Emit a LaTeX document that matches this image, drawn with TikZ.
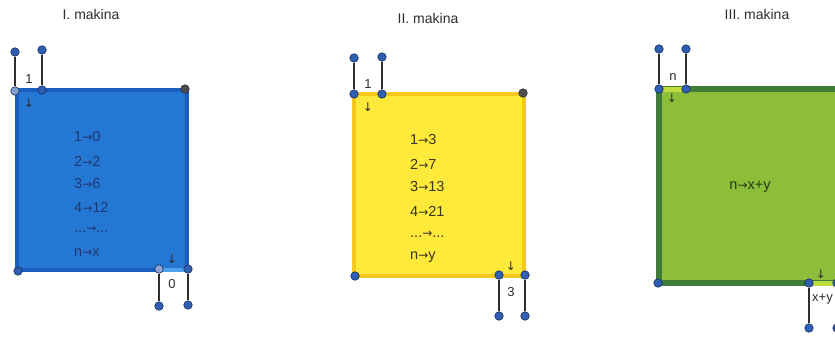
\documentclass[tikz,border=0pt]{standalone}
\usepackage{fontspec}
\setmainfont{Liberation Sans}
\newfontfamily\arr{DejaVu Sans}
\definecolor{bluefill}{HTML}{2577D4}
\definecolor{blueedge}{HTML}{1A5EC2}
\definecolor{bluegap}{HTML}{4FA3EC}
\definecolor{bluetext}{HTML}{1C3A72}
\definecolor{yelfill}{HTML}{FFEA3C}
\definecolor{yeledge}{HTML}{F4C81C}
\definecolor{yeltext}{HTML}{3A3520}
\definecolor{grnfill}{HTML}{8DBE3A}
\definecolor{grnedge}{HTML}{3F7C38}
\definecolor{grngap}{HTML}{BEDC3E}
\definecolor{grntext}{HTML}{26361A}
\definecolor{dotfill}{HTML}{2F5FB3}
\definecolor{dotedge}{HTML}{1B2D5E}
\definecolor{ink}{HTML}{2E2E2E}
\tikzset{
  dot/.style={circle,fill=dotfill,draw=dotedge,line width=0.6pt,inner sep=0pt,minimum size=8.5pt},
  darkdot/.style={dot,fill=ink!85,draw=ink},
  post/.style={draw=ink,line width=1.6pt},
  title/.style={font=\fontsize{14}{16}\selectfont,text=ink,inner sep=0pt},
  lbl/.style={font=\fontsize{13}{15}\selectfont,text=ink,inner sep=0pt},
  dn/.style={font=\arr\fontsize{12}{13}\selectfont,text=ink,inner sep=0pt},
  rule/.style={font=\fontsize{14.5}{16}\selectfont,inner sep=0pt,anchor=west},
}
\newcommand{\ra}{{\arr\fontsize{12}{14}\selectfont →}}
\begin{document}
\begin{tikzpicture}[x=1pt,y=-1pt]
\useasboundingbox (0,0) rectangle (835,338);
\clip (0,0) rectangle (835,338);
\fill[white] (0,0) rectangle (835,338);

% ---------- Machine I ----------
\node[title] (t1) at (91,14) {I. makina};
\draw[fill=bluefill,draw=blueedge,line width=4.5pt] (17,90) rectangle (187,270);
\draw[bluegap,line width=4.5pt] (160,270) -- (186,270);
\node[dot,fill=dotfill!60!white] (a1) at (15,91) {};
\node[dot] (a2) at (42,90) {};
\node[darkdot] (a3) at (185,89) {};
\node[dot] (a4) at (18,271) {};
\node[dot,fill=dotfill!55!white] (a5) at (159,269) {};
\node[dot] (a6) at (188,269) {};
\node[dot] (p1) at (15,52) {};
\node[dot] (p2) at (42,50) {};
\node[dot] (q1) at (159,306) {};
\node[dot] (q2) at (188,305) {};
\draw[post] (p1) -- (a1);
\draw[post] (p2) -- (a2);
\draw[post] (a5) -- (q1);
\draw[post] (a6) -- (q2);
\node[lbl] (l1) at (29,79) {1};
\node[dn] (d1) at (29,103) {↓};
\node[lbl] (l2) at (172,284) {0};
\node[dn] (d2) at (172,259) {↓};
\begin{scope}[text=bluetext]
\node[rule] (r11) at (74,137) {1\ra0};
\node[rule] (r12) at (74,161) {2\ra2};
\node[rule] (r13) at (74,184) {3\ra6};
\node[rule] (r14) at (74,207) {4\ra12};
\node[rule] (r15) at (74,229) {...\ra...};
\node[rule] (r16) at (74,253) {n\ra x};
\end{scope}

% ---------- Machine II ----------
\node[title] (t2) at (428,18) {II. makina};
\draw[fill=yelfill,draw=yeledge,line width=4pt] (354,94) rectangle (524,276);
\node[dot] (b1) at (354,94) {};
\node[dot] (b2) at (382,94) {};
\node[darkdot] (b3) at (523,93) {};
\node[dot] (b4) at (355,276) {};
\node[dot] (b5) at (499,275) {};
\node[dot] (b6) at (525,275) {};
\node[dot] (p3) at (354,58) {};
\node[dot] (p4) at (382,57) {};
\node[dot] (q3) at (499,316) {};
\node[dot] (q4) at (525,316) {};
\draw[post] (p3) -- (b1);
\draw[post] (p4) -- (b2);
\draw[post] (b5) -- (q3);
\draw[post] (b6) -- (q4);
\node[lbl] (l3) at (368,84) {1};
\node[dn] (d3) at (368,107) {↓};
\node[lbl] (l4) at (511,292) {3};
\node[dn] (d4) at (511,266) {↓};
\begin{scope}[text=yeltext]
\node[rule] (r21) at (410,140) {1\ra3};
\node[rule] (r22) at (410,164) {2\ra7};
\node[rule] (r23) at (410,187) {3\ra13};
\node[rule] (r24) at (410,211) {4\ra21};
\node[rule] (r25) at (410,234) {...\ra...};
\node[rule] (r26) at (410,257) {n\ra y};
\end{scope}

% ---------- Machine III ----------
\node[title] (t3) at (757,14) {III. makina};
\draw[fill=grnfill,draw=grnedge,line width=6pt] (659,89) rectangle (850,283);
\draw[grngap,line width=5pt] (663,89) -- (682,89);
\draw[grngap,line width=5pt] (813,283) -- (835,283);
\node[dot] (c1) at (659,89) {};
\node[dot] (c2) at (686,89) {};
\node[dot] (c4) at (658,283) {};
\node[dot] (c5) at (809,283) {};
\node[dot] (c6) at (837,283) {};
\node[dot] (p5) at (659,49) {};
\node[dot] (p6) at (686,49) {};
\node[dot] (q5) at (809,328) {};
\node[dot] (q6) at (837,328) {};
\draw[post] (p5) -- (c1);
\draw[post] (p6) -- (c2);
\draw[post] (c5) -- (q5);
\draw[post] (c6) -- (q6);
\node[lbl] (l5) at (673,77) {n};
\node[dn] (d5) at (672,98) {↓};
\node[lbl,anchor=west] (l6) at (812,299) {x+y};
\node[dn] (d6) at (821,274) {↓};
\node[rule,anchor=center,text=grntext] (r31) at (750,187) {n\ra x+y};
\end{tikzpicture}
\end{document}
